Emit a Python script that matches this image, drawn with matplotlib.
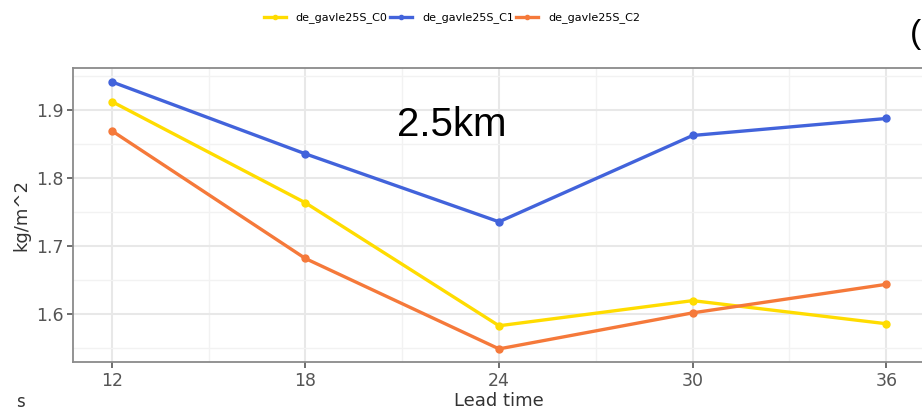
import matplotlib
matplotlib.use("Agg")
import matplotlib.pyplot as plt
from matplotlib.ticker import MultipleLocator

# lead time (h) and mean values (kg/m^2)
lead_time = [12, 18, 24, 30, 36]
c0 = [1.912, 1.763, 1.582, 1.619, 1.585]
c1 = [1.941, 1.835, 1.735, 1.862, 1.887]
c2 = [1.869, 1.681, 1.548, 1.601, 1.643]
names = ["de_gavle25S_C0", "de_gavle25S_C1", "de_gavle25S_C2"]
colors = ["#FFDC00", "#4263DB", "#F5793A"]

W, H = 922, 412
fig = plt.figure(figsize=(W / 100, H / 100), dpi=100)
# panel runs a little past the right edge, like the cropped screenshot
ax = fig.add_axes([73 / W, 1 - 362 / H, (925 - 73) / W, (362 - 68) / H])

for vals, name, col in zip([c0, c1, c2], names, colors):
    ax.plot(lead_time, vals, "-o", color=col, lw=2.4, ms=5, label=name, zorder=3)

ax.set_xlim(10.8, 37.2)
ax.set_ylim(1.5287, 1.9613)
ax.set_xticks(lead_time)
ax.xaxis.set_minor_locator(MultipleLocator(3))
ax.set_yticks([1.6, 1.7, 1.8, 1.9])
ax.yaxis.set_minor_locator(MultipleLocator(0.05))
ax.grid(which="major", color="#E8E8E8", lw=1.5)
ax.grid(which="minor", color="#F2F2F2", lw=1.0)
ax.set_axisbelow(True)
for s in ax.spines.values():
    s.set_color("#8A8A8A")
    s.set_linewidth(1.3)
ax.tick_params(which="major", length=4, width=1.2, color="#555555",
               labelcolor="#555555", labelsize=12.5, pad=3)
ax.tick_params(which="minor", length=0)

ax.set_xlabel("Lead time", fontsize=13, color="#333333", labelpad=2)
ax.set_ylabel("kg/m^2", fontsize=13, color="#333333", labelpad=4)

fig.legend(loc="center", bbox_to_anchor=(452 / W, 1 - 18 / H), ncol=3,
           frameon=False, fontsize=8, handlelength=2.0, handletextpad=0.9,
           columnspacing=0.2, markerscale=0.6)

fig.text(452 / W, 1 - 125 / H, "2.5km", fontsize=29, family="Liberation Sans",
         ha="center", va="center", color="black")
fig.text(910 / W, 1 - 34 / H, "(", fontsize=24, family="Liberation Sans",
         ha="left", va="center", color="black")
fig.text(16 / W, 1 - 411 / H, "s", fontsize=12, color="#333333",
         ha="left", va="bottom")

fig.savefig("out.png", dpi=100)
